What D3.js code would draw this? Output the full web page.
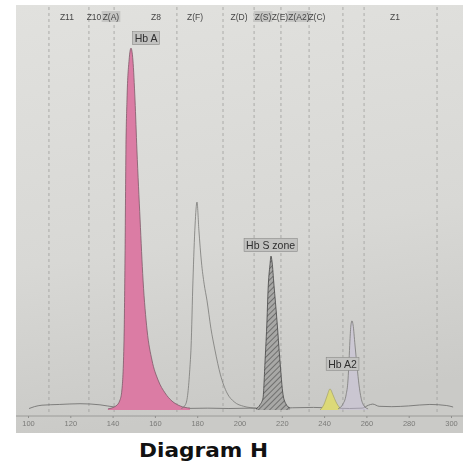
<!DOCTYPE html>
<html>
<head>
<meta charset="utf-8">
<script src="https://cdn.jsdelivr.net/npm/d3@7"></script>
<style>
  body { margin: 0; background: #ffffff; }
  svg { display: block; }
</style>
</head>
<body>
<svg id="chart" width="472" height="468"></svg>
<script>
// Migration-position axis ticks
const tickValues = [100, 120, 140, 160, 180, 200, 220, 240, 260, 280, 300];

// Zone boundaries (migration units), zone names and where each name sits
const zoneBounds  = [109.9, 128.8, 140.7, 170.4, 192.2, 206.9, 219.6, 232.9, 248.9, 258.9, 293.4];
const zoneNames   = ["Z11", "Z10", "Z(A)", "Z8", "Z(F)", "Z(D)", "Z(S)", "Z(E)", "Z(A2)", "Z(C)", "Z1"];
const zoneLabelAt = [118.4, 131.2, 139.2, 160.5, 179.0, 199.8, 211.1, 219.1, 228.1, 236.6, 273.5];
const zoneBoxed   = ["Z(A)", "Z(S)", "Z(A2)"];

// Trace segments: [migration position, absorbance %]
const baseline = [[100.5,0.4],[103,0.9],[106.6,1.3],[115,1.5],[124.6,1.7],[134,1.4],[141,0.8],[150,0.5],
  [160,0.5],[172,0.4],[185,0.5],[195,0.4],[205,0.5],[215,0.4],[225,0.6],[235,0.7],[245,0.5],[252,0.4],
  [258,0.5],[261,1.3],[263,1.6],[266,1.0],[272,0.9],[280,1.1],[290,1.5],[298,1.2],[301,0.8]];

const hbA = [[137.8,0.3],[141.6,1.1],[143.5,2.7],[144.4,5.4],[145.4,18.9],[145.9,43.2],[146.3,70.3],
  [146.8,83.8],[147.8,94.6],[148.7,97.8],[149.6,94.6],[150.6,83.8],[151.5,70.3],[153.0,51.4],[154.4,35.1],
  [156.3,21.6],[158.6,13.5],[161.5,8.1],[164.8,4.6],[168.1,2.4],[171.9,1.1],[176.6,0.5]];

const hbF = [[172.5,0.4],[174.5,1.5],[175.6,4.6],[176.5,11.0],[177.1,17.0],[178.0,35.1],[179.0,50.0],
  [179.9,56.2],[180.8,48.6],[182.0,40.0],[183.3,34.0],[184.6,29.7],[186.5,22.0],[188.4,16.2],[191.0,9.5],
  [194.1,4.6],[197.5,2.2],[202.0,1.0],[208.0,0.5]];

const hbS = [[207.8,0.3],[209.7,1.4],[211.1,3.2],[212.1,13.5],[213.0,24.3],[213.5,32.4],[214.4,39.2],
  [214.9,41.6],[215.4,40.0],[216.3,33.8],[217.7,24.3],[219.1,13.5],[220.6,4.1],[222.0,1.6],[223.9,0.5]];

const hbA2 = [[238.1,0.0],[240.0,1.6],[241.4,3.8],[242.8,5.7],[244.2,4.1],[245.6,2.2],[247.5,0.5]];

const minorPeak = [[246.6,0.3],[248.9,1.6],[250.4,4.1],[251.3,8.1],[251.8,13.5],[252.2,18.6],[252.7,23.0],
  [253.2,24.1],[253.7,23.0],[254.6,17.6],[255.6,11.6],[256.5,6.8],[257.5,3.2],[258.9,1.1],[260.8,0.3]];

// Fraction labels and their anchor (migration, absorbance)
const peakLabels = ["Hb A", "Hb S zone", "Hb A2"];
const peakLabelX = [155.8, 214.7, 248.7];
const peakLabelY = [100.4, 44.5, 12.4];

const svg = d3.select("#chart");
const frame = { left: 16, top: 5, right: 463, bottom: 433 };

const x = d3.scaleLinear().domain([100, 300]).range([28, 451]);
const y = d3.scaleLinear().domain([0, 100]).range([410, 40]);

const defs = svg.append("defs");
const grad = defs.append("linearGradient").attr("id", "paper")
  .attr("x1", 0).attr("y1", 0).attr("x2", 0.15).attr("y2", 1);
grad.append("stop").attr("offset", "0%").attr("stop-color", "#e1e1de");
grad.append("stop").attr("offset", "60%").attr("stop-color", "#d8d8d5");
grad.append("stop").attr("offset", "100%").attr("stop-color", "#cacac7");

const hatch = defs.append("pattern").attr("id", "hatch")
  .attr("patternUnits", "userSpaceOnUse").attr("width", 4).attr("height", 4)
  .attr("patternTransform", "rotate(45)");
hatch.append("rect").attr("width", 4).attr("height", 4).attr("fill", "#a8a8a6");
hatch.append("line").attr("x1", 0).attr("y1", 0).attr("x2", 0).attr("y2", 4)
  .attr("stroke", "#505050").attr("stroke-width", 1.3);

defs.append("filter").attr("id", "soft")
  .append("feGaussianBlur").attr("stdDeviation", 0.55);

const g = svg.append("g").attr("filter", "url(#soft)");

g.append("rect")
  .attr("x", frame.left).attr("y", frame.top)
  .attr("width", frame.right - frame.left).attr("height", frame.bottom - frame.top)
  .attr("fill", "url(#paper)");

// Zone separators
g.append("g").selectAll("line").data(zoneBounds).join("line")
  .attr("x1", d => x(d)).attr("x2", d => x(d))
  .attr("y1", frame.top + 2).attr("y2", y(0) + 2)
  .attr("stroke", "#9e9e9c").attr("stroke-width", 0.8)
  .attr("stroke-dasharray", "3,3");

// Zone names
const zoneG = g.append("g");
zoneNames.forEach((name, i) => {
  const t = zoneG.append("text")
    .attr("x", x(zoneLabelAt[i])).attr("y", 19.5)
    .attr("text-anchor", "middle")
    .attr("font-family", "Liberation Sans, Arial, sans-serif")
    .attr("font-size", 8.5).attr("fill", "#454545")
    .text(name);
  if (zoneBoxed.includes(name)) {
    const b = t.node().getBBox();
    zoneG.insert("rect", "text")
      .attr("x", b.x - 1).attr("y", b.y - 0.5)
      .attr("width", b.width + 2).attr("height", b.height + 1)
      .attr("fill", "#c6c6c4");
  }
});

// Axis
const axisY = 416;
g.append("line")
  .attr("x1", frame.left).attr("x2", frame.right)
  .attr("y1", axisY).attr("y2", axisY)
  .attr("stroke", "#8f8f8d").attr("stroke-width", 0.8);
const axis = g.append("g").attr("transform", `translate(0,${axisY})`)
  .call(d3.axisBottom(x).tickValues(tickValues).tickSize(2).tickPadding(3));
axis.select(".domain").remove();
axis.selectAll(".tick line").attr("stroke", "#8f8f8d");
axis.selectAll(".tick text")
  .attr("font-family", "Liberation Sans, Arial, sans-serif")
  .attr("font-size", 7.5).attr("fill", "#7a7a78");

const line = d3.line().x(d => x(d[0])).y(d => y(d[1])).curve(d3.curveMonotoneX);
const area = d3.area().x(d => x(d[0])).y0(y(0)).y1(d => y(d[1])).curve(d3.curveMonotoneX);

// Baseline trace
g.append("path").datum(baseline).attr("d", line)
  .attr("fill", "none").attr("stroke", "#6a6a68").attr("stroke-width", 0.8);

// Hb A (pink)
g.append("path").datum(hbA).attr("d", area).attr("fill", "#db7ba4");
g.append("path").datum(hbA).attr("d", line)
  .attr("fill", "none").attr("stroke", "#7e5a68").attr("stroke-width", 0.8);

// Hb F zone peak (outline only)
g.append("path").datum(hbF).attr("d", line)
  .attr("fill", "none").attr("stroke", "#747472").attr("stroke-width", 0.75);

// Hb S (hatched)
g.append("path").datum(hbS).attr("d", area).attr("fill", "url(#hatch)");
g.append("path").datum(hbS).attr("d", line)
  .attr("fill", "none").attr("stroke", "#444").attr("stroke-width", 0.8);

// Hb A2 (yellow)
g.append("path").datum(hbA2).attr("d", area).attr("fill", "#dcd978");
g.append("path").datum(hbA2).attr("d", line)
  .attr("fill", "none").attr("stroke", "#9a9860").attr("stroke-width", 0.6);

// Minor peak after Hb A2, faintly tinted
g.append("path").datum(minorPeak).attr("d", area).attr("fill", "#c9c2dd").attr("opacity", 0.45);
g.append("path").datum(minorPeak).attr("d", line)
  .attr("fill", "none").attr("stroke", "#747472").attr("stroke-width", 0.75);

// Fraction labels
const labG = g.append("g");
peakLabels.forEach((name, i) => {
  const t = labG.append("text")
    .attr("x", x(peakLabelX[i])).attr("y", y(peakLabelY[i]))
    .attr("dy", "0.35em")
    .attr("text-anchor", "middle")
    .attr("font-family", "Liberation Sans, Arial, sans-serif")
    .attr("font-size", 10.5).attr("fill", "#2e2e2e")
    .text(name);
  const b = t.node().getBBox();
  labG.insert("rect", "text")
    .attr("x", b.x - 2).attr("y", b.y - 0.5)
    .attr("width", b.width + 4).attr("height", b.height + 1)
    .attr("fill", "#c2c2c0").attr("stroke", "#8a8a88").attr("stroke-width", 0.6);
});

// Caption
svg.append("text")
  .attr("x", 203.5).attr("y", 457)
  .attr("text-anchor", "middle")
  .attr("font-family", "DejaVu Sans, sans-serif")
  .attr("font-weight", 700).attr("font-size", 20)
  .attr("textLength", 129).attr("lengthAdjust", "spacingAndGlyphs")
  .attr("fill", "#111")
  .text("Diagram H");
</script>
</body>
</html>
